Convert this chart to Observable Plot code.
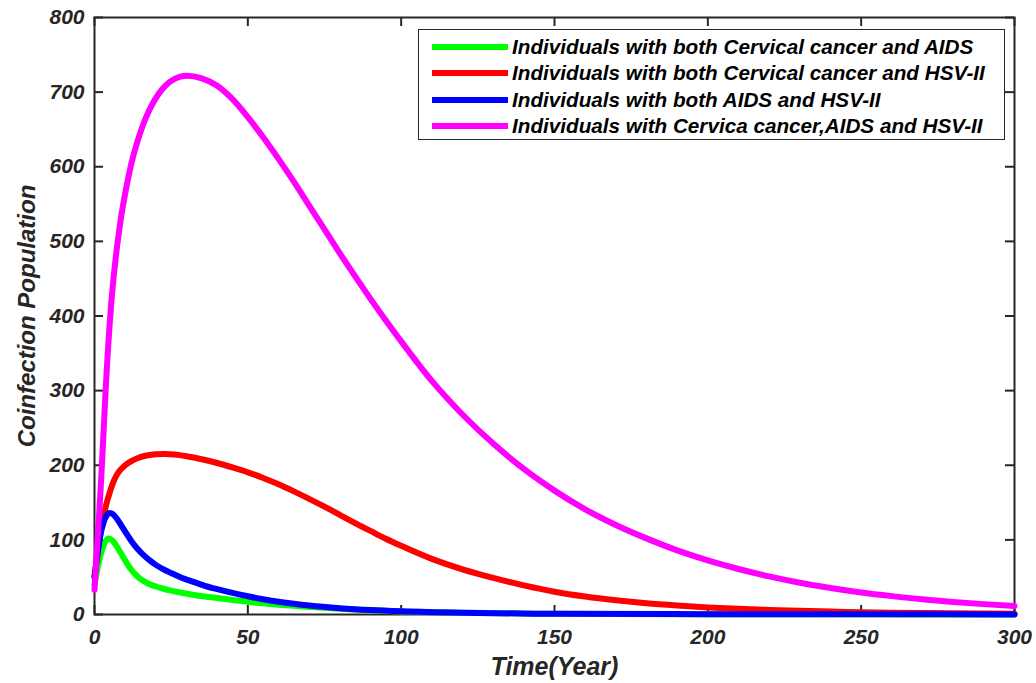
<!DOCTYPE html>
<html>
<head>
<meta charset="utf-8">
<script src="https://cdn.jsdelivr.net/npm/d3@7"></script>
<script src="https://cdn.jsdelivr.net/npm/@observablehq/plot@0.6"></script>
<style>
  html, body { margin: 0; padding: 0; background: #fff; }
  #wrap { position: relative; width: 1036px; height: 683px; }
  #legend {
    position: absolute; left: 418px; top: 29px; width: 587px; height: 111px;
    box-sizing: border-box; border: 1px solid #262626; background: #fff;
    font-family: "Liberation Sans", Arial, sans-serif; font-weight: bold; font-style: italic;
    font-size: 20.7px; color: #000;
  }
  .row { position: absolute; left: 0; height: 26px; display: flex; align-items: center; white-space: nowrap; }
  .row svg { margin-left: 13px; margin-right: 4px; }
</style>
</head>
<body>
<div id="wrap"><div id="legend"></div></div>
<script>
// ---- data ----
const seriesNames = [
  "Individuals with both Cervical cancer and AIDS",
  "Individuals with both Cervical cancer and HSV-II",
  "Individuals with both AIDS and HSV-II",
  "Individuals with Cervica cancer,AIDS and HSV-II"
];
const seriesColors = ["#00ff00", "#ff0000", "#0000ff", "#ff00ff"];

const greenT = [0, 1, 2, 3, 4, 4.5, 5, 6, 7, 8, 9, 10, 12, 14, 16, 18, 20, 22.5, 25, 28, 32, 36, 40, 45, 50, 55, 60, 65, 70, 80, 90, 100, 120, 150, 200, 250, 300];
const greenV = [40, 62, 80, 93, 100.5, 102, 101.5, 98.5, 93, 86.5, 79.5, 72.5, 60, 51, 45, 40.5, 37.5, 34.5, 32, 29.5, 26.5, 24, 22, 19.5, 17, 15, 13.2, 11.6, 10.2, 7.6, 5.6, 4.1, 2.2, 1, 0.4, 0.2, 0.1];

const redT = [0, 1, 2, 3, 4, 5, 6, 7, 8, 10, 12, 14, 17, 20, 23, 26, 30, 35, 40, 45, 50, 55, 60, 65, 70, 75, 80, 85, 90, 95, 100, 110, 120, 130, 140, 150, 160, 170, 180, 190, 200, 210, 220, 230, 240, 250, 260, 270, 280, 290, 300];
const redV = [50, 82, 110, 132, 150, 164, 176, 185, 191.5, 200, 205.5, 209.5, 213, 214.7, 215, 214.3, 212, 208, 203, 197, 190.5, 183, 174.5, 165, 155, 144.5, 133.5, 122.5, 112, 101.5, 92, 74.5, 60.5, 49, 39, 30.5, 24, 19, 15, 12, 9.5, 7.6, 6.1, 4.9, 3.9, 3.1, 2.5, 2, 1.6, 1.3, 1];

const blueT = [0, 1, 2, 3, 4, 5, 6, 7, 8, 9, 10, 12, 14, 16, 18, 20, 22.5, 25, 28, 32, 36, 40, 45, 50, 55, 60, 65, 70, 80, 90, 100, 120, 150, 200, 250, 300];
const blueV = [50, 82, 108, 124, 133, 136, 134.5, 130, 124, 117.5, 111, 98.5, 88, 79.5, 72.5, 66.5, 60.5, 55.5, 50, 44, 38.5, 34, 29, 24.5, 20.5, 17.2, 14.4, 12, 8.4, 5.9, 4.2, 2.2, 1, 0.45, 0.25, 0.15];

const magentaT = [0, 1, 2, 2.5, 3, 3.5, 4, 4.5, 5, 5.5, 6, 7, 8, 9, 10, 12, 14, 16, 18, 20, 22, 24, 26, 28, 30, 35, 40, 45, 50, 55, 60, 65, 70, 75, 80, 85, 90, 95, 100, 110, 120, 130, 140, 150, 160, 170, 180, 190, 200, 210, 220, 230, 240, 250, 260, 270, 280, 290, 300];
const magentaV = [33, 100, 168, 207, 248, 290, 328, 362, 392, 419, 442, 481, 513, 541, 564, 604, 634, 658, 677, 692, 703.5, 712, 717.5, 720.8, 722, 718.5, 708.5, 690.5, 666.5, 639.5, 610.5, 580, 548, 516, 484, 453, 423, 394, 366, 313, 268, 229, 195, 166, 141, 120, 102, 86, 72.5, 61, 51, 42.5, 35.5, 29.5, 24.6, 20.3, 16.8, 13.9, 11.5];

const xTicks = [0, 50, 100, 150, 200, 250, 300];
const yTicks = [0, 100, 200, 300, 400, 500, 600, 700, 800];
const xLabel = "Time(Year)";
const yLabel = "Coinfection Population";

// ---- build table ----
const seriesT = [greenT, redT, blueT, magentaT];
const seriesV = [greenV, redV, blueV, magentaV];
const rows = [];
seriesNames.forEach((name, i) => {
  seriesT[i].forEach((t, j) => rows.push({series: name, t, v: seriesV[i][j]}));
});

const W = 1036, H = 683;
const mL = 94, mR = 22, mT = 17, mB = 69;
const innerW = W - mL - mR, innerH = H - mT - mB;
const tickLen = 9;
const axisColor = "#262626";

const plot = Plot.plot({
  width: W, height: H,
  marginLeft: mL, marginRight: mR, marginTop: mT, marginBottom: mB,
  x: {domain: [0, 300]},
  y: {domain: [0, 800]},
  color: {domain: seriesNames, range: seriesColors},
  style: {
    fontFamily: '"Liberation Sans", Arial, sans-serif',
    fontWeight: "bold", fontStyle: "italic", fontSize: "21px",
    color: axisColor, background: "#fff", overflow: "visible"
  },
  marks: [
    Plot.axisX({ticks: xTicks, tickSize: 0, tickPadding: 15, label: null, fill: axisColor}),
    Plot.axisY({ticks: yTicks, tickSize: 0, tickPadding: 10, label: null, fill: axisColor}),
    // inward tick marks on all four sides
    Plot.tickY(yTicks, {y: d => d, insetRight: innerW - tickLen, stroke: axisColor, strokeWidth: 2}),
    Plot.tickY(yTicks, {y: d => d, insetLeft: innerW - tickLen, stroke: axisColor, strokeWidth: 2}),
    Plot.tickX(xTicks, {x: d => d, insetTop: innerH - tickLen, stroke: axisColor, strokeWidth: 2}),
    Plot.tickX(xTicks, {x: d => d, insetBottom: innerH - tickLen, stroke: axisColor, strokeWidth: 2}),
    Plot.frame({stroke: axisColor, strokeWidth: 2}),
    Plot.line(rows, {x: "t", y: "v", z: "series", stroke: "series", strokeWidth: 6, curve: "monotone-x"}),
    Plot.text([xLabel], {text: d => d, frameAnchor: "bottom", textAnchor: "middle", dy: 52, lineAnchor: "middle", fontSize: 25, fill: axisColor}),
    Plot.text([yLabel], {text: d => d, frameAnchor: "left", textAnchor: "middle", dx: -67, rotate: -90, lineAnchor: "middle", fontSize: 24, fill: axisColor})
  ]
});

document.getElementById("wrap").prepend(plot);

// legend
const legend = document.getElementById("legend");
seriesNames.forEach((name, i) => {
  const row = document.createElement("div");
  row.className = "row";
  row.style.top = (4 + i * 26.3) + "px";
  row.innerHTML = `<svg width="76" height="8"><line x1="0" y1="4" x2="76" y2="4" stroke="${seriesColors[i]}" stroke-width="6"/></svg><span>${name}</span>`;
  legend.appendChild(row);
});
</script>
</body>
</html>
